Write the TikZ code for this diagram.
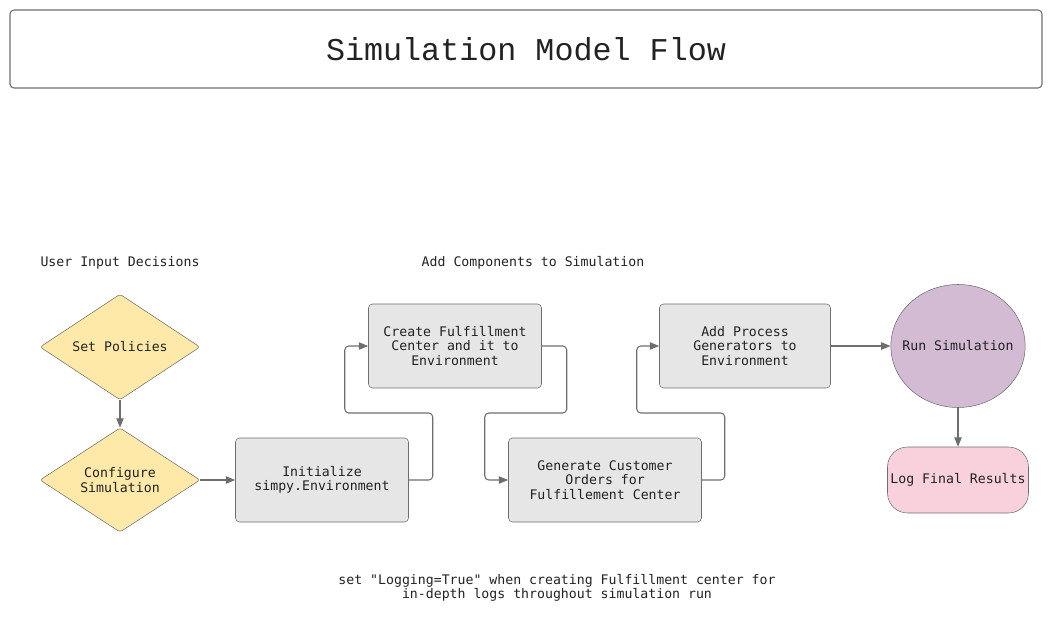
\documentclass[tikz,border=0pt]{standalone}
\usepackage{fontspec}
\setmonofont{DejaVu Sans Mono}
\newfontfamily\titlefont{Liberation Mono}
\usetikzlibrary{shapes.geometric,arrows.meta}

\definecolor{decfill}{HTML}{FFE9A8}
\definecolor{stepfill}{HTML}{E6E6E6}
\definecolor{runfill}{HTML}{D3BBD3}
\definecolor{logfill}{HTML}{F9D1DC}
\definecolor{edgegray}{HTML}{6E6E6E}
\definecolor{inkgray}{HTML}{222222}

\begin{document}
\begin{tikzpicture}[x=0.75pt, y=-0.75pt]
    \tikzstyle{txt} = [font=\ttfamily\fontsize{9.9}{10.9}\selectfont, text=inkgray, align=center]
    \tikzstyle{decision} = [txt, diamond, draw=edgegray, fill=decfill, inner sep=0pt, rounded corners=2pt, minimum width=120pt, minimum height=75pt]
    \tikzstyle{stepbox} = [txt, rectangle, draw=edgegray, fill=stepfill, rounded corners=3pt, minimum height=63pt]
    \tikzstyle{conn} = [draw=edgegray, line width=0.8pt, rounded corners=3pt, -{Triangle[length=7pt, width=5.5pt]}]

    \useasboundingbox (0,0) rectangle (1051,618);

    % Title
    \node[draw=edgegray, line width=0.8pt, rounded corners=3pt, minimum width=774pt, minimum height=58.5pt,
          font=\titlefont\fontsize{23.8}{26}\selectfont, text=inkgray] (title) at (526,49) {Simulation Model Flow};

    % Section labels
    \node[txt] (userlbl) at (120,263) {User Input Decisions};
    \node[txt] (complbl) at (533,263) {Add Components to Simulation};

    % User decisions
    \node[decision] (policies) at (120,347) {Set Policies};
    \node[decision] (config) at (120,480) {Configure\\Simulation};

    % Components
    \node[stepbox, minimum width=129.75pt] (init) at (322,480) {Initialize\\simpy.Environment};
    \node[stepbox, minimum width=129.75pt] (create) at (455,346) {Create Fulfillment\\Center and it to\\Environment};
    \node[stepbox, minimum width=144.75pt] (orders) at (605,480) {Generate Customer\\Orders for\\Fulfillement Center};
    \node[stepbox, minimum width=128.25pt] (procgen) at (745,346) {Add Process\\Generators to\\Environment};

    % Run and results
    \node[txt, ellipse, draw=edgegray, fill=runfill, inner xsep=-6.1pt, inner ysep=0pt, minimum height=92.25pt] (run) at (958,346) {Run Simulation};
    \node[txt, rectangle, draw=edgegray, fill=logfill, rounded corners=15pt, minimum width=105.75pt, minimum height=49.5pt, inner sep=1pt] (results) at (958,480) {Log Final Results};

    % Note
    \node[txt] (note) at (557,588) {set "Logging=True" when creating Fulfillment center for\\in-depth logs throughout simulation run};

    % Connectors
    \draw[conn] (policies) -- (config);
    \draw[conn] (config) -- (init);
    \draw[conn] (init.east) -- ++(24,0) -- ++(0,-67) -- ++(-88,0) |- (create.west);
    \draw[conn] (create.east) -- ++(25,0) -- ++(0,67) -- ++(-82,0) |- (orders.west);
    \draw[conn] (orders.east) -- ++(23,0) -- ++(0,-67) -- ++(-88,0) |- (procgen.west);
    \draw[conn] (procgen) -- (run);
    \draw[conn] (run) -- (results);

\end{tikzpicture}
\end{document}
